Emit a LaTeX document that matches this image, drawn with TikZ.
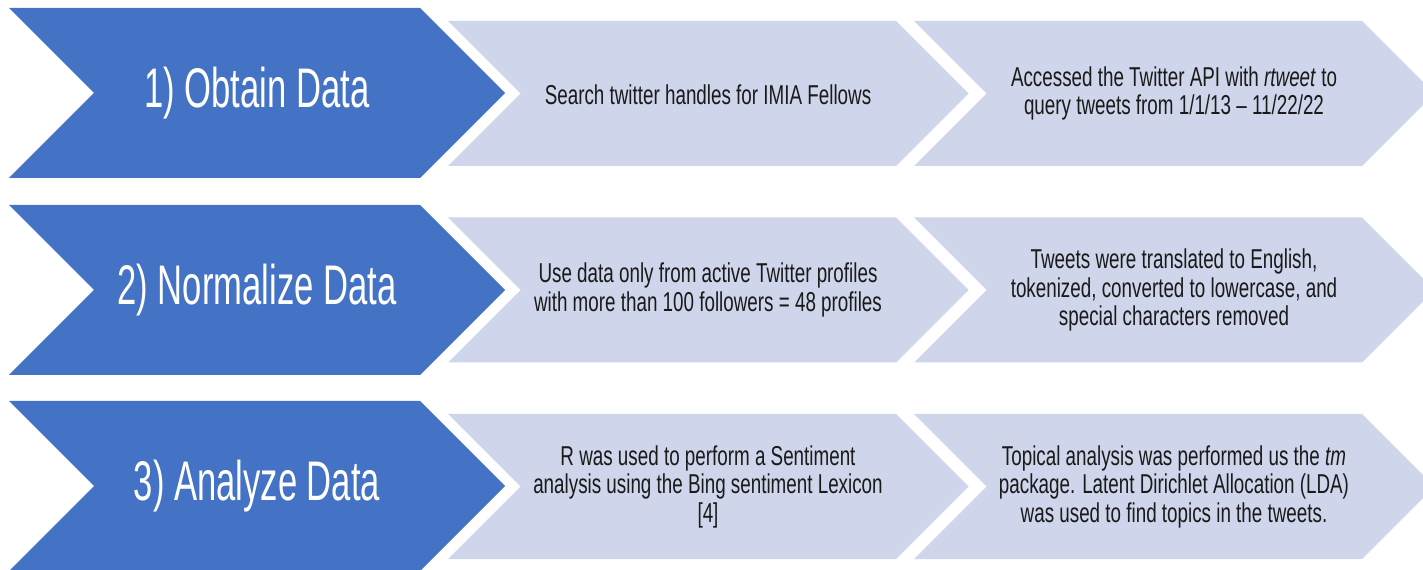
\documentclass[tikz,border=0pt]{standalone}
\usepackage{fontspec}
\setmainfont{Liberation Sans}[FakeStretch=0.69]
\newfontfamily\titlefont{Liberation Sans}[FakeStretch=0.62]

\definecolor{stepblue}{HTML}{4472C4}
\definecolor{steplight}{HTML}{CFD5EA}
\definecolor{steptext}{HTML}{1A1A1A}

\tikzstyle{steptitle} = [text=white, inner sep=0pt, font=\titlefont\fontsize{39.7}{44}\selectfont]
\tikzstyle{detail} = [text=steptext, inner sep=0pt, align=center, font=\fontsize{19.4}{20.3}\selectfont]

% chevron: colour, left x, corner x, mid y, half height
\newcommand{\chevron}[5]{\fill[#1] (#2,#4-#5) -- (#3,#4-#5) -- (#3+#5,#4) -- (#3,#4+#5) -- (#2,#4+#5) -- (#2+#5,#4) -- cycle;}

\begin{document}
\begin{tikzpicture}[x=0.025cm, y=-0.025cm]
\useasboundingbox (0,0) rectangle (1423,570);

% row 1
\chevron{stepblue}{9}{420}{93}{85}
\chevron{steplight}{448}{896}{93.5}{72.5}
\chevron{steplight}{914}{1362}{93.5}{72.5}
% row 2
\chevron{stepblue}{9}{420}{290}{85}
\chevron{steplight}{448}{896}{290}{72.5}
\chevron{steplight}{914}{1362}{290}{72.5}
% row 3
\chevron{stepblue}{9}{420}{486}{85}
\chevron{steplight}{448}{896}{486.5}{72.5}
\chevron{steplight}{914}{1362}{486.5}{72.5}

\node (obtain) [steptitle] at (257,93) {1) Obtain Data};
\node (search) [detail] at (708,95) {Search twitter handles for IMIA Fellows};
\node (query) [detail] at (1174,93.5) {Accessed the Twitter API with \textit{rtweet} to\\query tweets from 1/1/13 – 11/22/22};

\node (normalize) [steptitle] at (257,290) {2) Normalize Data};
\node (profiles) [detail] at (708,290) {Use data only from active Twitter profiles\\with more than 100 followers = 48 profiles};
\node (clean) [detail] at (1174,290) {Tweets were translated to English,\\tokenized, converted to lowercase, and\\special characters removed};

\node (analyze) [steptitle] at (257,486) {3) Analyze Data};
\node (sentiment) [detail] at (708,486.5) {R was used to perform a Sentiment\\analysis using the Bing sentiment Lexicon\\{[4]}};
\node (topics) [detail] at (1174,486.5) {Topical analysis was performed us the \textit{tm}\\package. Latent Dirichlet Allocation (LDA)\\was used to find topics in the tweets.};

\end{tikzpicture}
\end{document}
